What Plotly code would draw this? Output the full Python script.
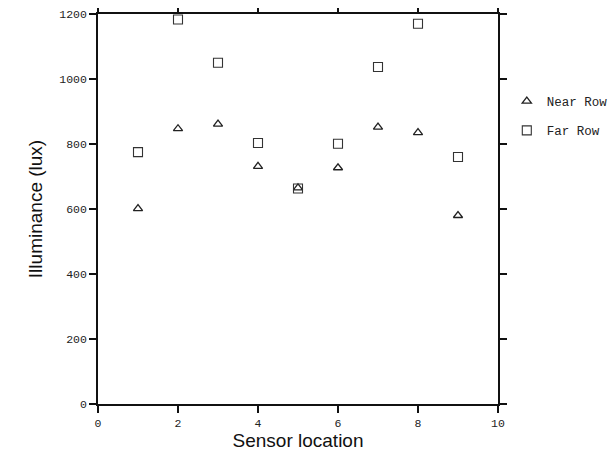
import plotly.graph_objects as go

sensor = [1, 2, 3, 4, 5, 6, 7, 8, 9]
near_row = [601, 847, 861, 731, 665, 727, 852, 835, 580]
far_row = [775, 1183, 1050, 803, 663, 801, 1037, 1170, 760]

fig = go.Figure()
fig.add_trace(go.Scatter(
    x=sensor, y=near_row, mode="markers", name="Near Row", legendgroup="a",
    marker=dict(symbol="triangle-up-open", size=8, color="#222", line=dict(width=1.3)),
))
fig.add_trace(go.Scatter(
    x=sensor, y=far_row, mode="markers", name="Far Row", legendgroup="b",
    marker=dict(symbol="square-open", size=9, color="#333", line=dict(width=1.1)),
))

axis_common = dict(
    showline=True, linecolor="#111", linewidth=1.6, mirror="allticks",
    ticks="outside", ticklen=7, tickwidth=1.6, tickcolor="#111",
    showgrid=False, zeroline=False, automargin=False, ticklabeloverflow="allow",
    tickfont=dict(family="Liberation Mono", size=11.5, color="#222"),
)

fig.update_layout(
    width=600, height=450,
    margin=dict(l=90, r=110, t=6, b=54, autoexpand=False),
    paper_bgcolor="white", plot_bgcolor="white",
    xaxis=dict(range=[0, 10], tickvals=[0, 2, 4, 6, 8, 10],
               title=dict(text="Sensor location", font=dict(family="Liberation Sans", size=19, color="#111"), standoff=4),
               **axis_common),
    yaxis=dict(range=[0, 1200], tickvals=[0, 200, 400, 600, 800, 1000, 1200],
               title=dict(text="Illuminance (lux)", font=dict(family="Liberation Sans", size=19, color="#111"), standoff=12),
               **axis_common),
    legend=dict(x=1.022, y=0.814, xanchor="left", yanchor="top",
                font=dict(family="Liberation Mono", size=12.5, color="#222"),
                tracegroupgap=10, bgcolor="rgba(0,0,0,0)"),
)

fig.write_html("out.html")
